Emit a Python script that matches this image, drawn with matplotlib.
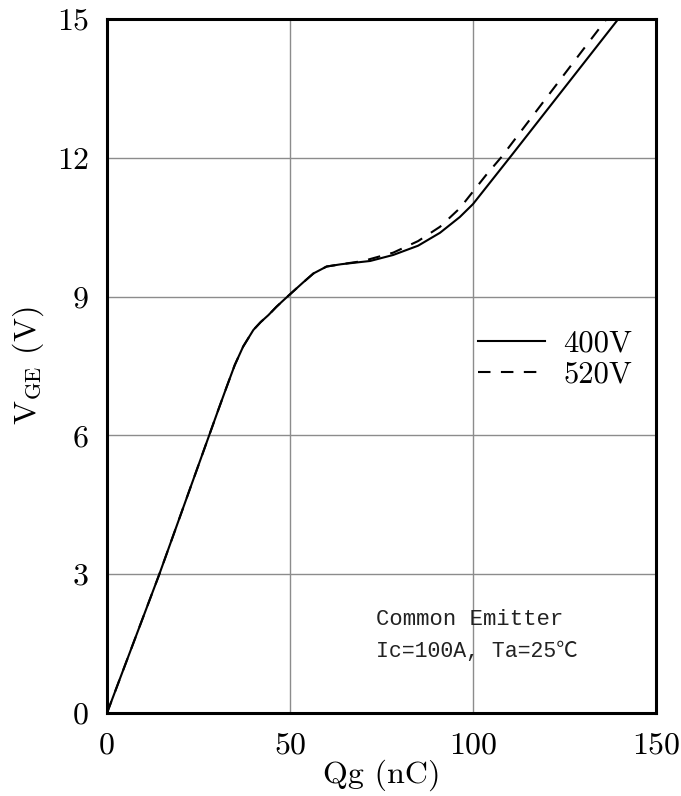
import matplotlib
matplotlib.use("Agg")
import matplotlib.pyplot as plt

# Gate charge characteristics
qg_400 = [0, 14.3, 28.0, 30.4, 32.7, 34.9, 37.2, 40.0, 42.0, 44.1, 46.3, 48.2, 50.0, 53.5,
          56.4, 60.0, 64.0, 71.9, 78.2, 85.0, 91.0, 96.4, 100.0, 105.0, 110.6, 120.0, 130.0, 139.7]
vge_400 = [0, 3.0, 6.02, 6.55, 7.05, 7.52, 7.92, 8.28, 8.45, 8.6, 8.78, 8.92, 9.05, 9.3,
           9.5, 9.65, 9.7, 9.77, 9.90, 10.1, 10.38, 10.72, 11.0, 11.5, 12.06, 13.01, 14.02, 15.0]

qg_520 = [0, 14.3, 28.0, 30.4, 32.7, 34.9, 37.2, 40.0, 42.0, 44.1, 46.3, 48.2, 50.0, 53.5,
          56.4, 60.0, 64.0, 70.0, 78.2, 85.0, 91.0, 96.4, 99.6, 103.5, 107.8, 120.0, 130.0, 136.5]
vge_520 = [0, 3.0, 6.02, 6.55, 7.05, 7.52, 7.92, 8.28, 8.45, 8.6, 8.78, 8.92, 9.05, 9.3,
           9.5, 9.65, 9.7, 9.77, 9.95, 10.2, 10.51, 10.91, 11.23, 11.62, 12.02, 13.29, 14.33, 15.0]

x_ticks = [0, 50, 100, 150]
y_ticks = [0, 3, 6, 9, 12, 15]

plt.rcParams['mathtext.fontset'] = 'cm'
cm_font = 'cmr10'
note_font = ['Liberation Mono', 'Noto Sans CJK SC']

fig = plt.figure(figsize=(6.81, 7.96), dpi=100)
ax = fig.add_axes([107 / 681, 83 / 796, 549 / 681, 694 / 796])

ax.plot(qg_400, vge_400, color='black', lw=1.5, label='400V')
ax.plot(qg_520, vge_520, color='black', lw=1.5, ls=(0, (6.0, 5.0)), label='520V')

ax.set_xlim(0, 150)
ax.set_ylim(0, 15)
ax.set_xticks(x_ticks)
ax.set_yticks(y_ticks)
ax.set_xticklabels([str(v) for v in x_ticks], fontfamily=cm_font, fontsize=23)
ax.set_yticklabels([str(v) for v in y_ticks], fontfamily=cm_font, fontsize=23)
ax.tick_params(length=0, pad=13)
ax.tick_params(axis='x', pad=14)

ax.grid(True, color='#8c8c8c', lw=1.0)
ax.set_axisbelow(True)
for sp in ax.spines.values():
    sp.set_linewidth(2.2)
    sp.set_color('black')

ax.set_xlabel('Qg (nC)', fontfamily=cm_font, fontsize=23, labelpad=0)
ax.set_ylabel(r'$\mathrm{V_{GE}}$ (V)', fontfamily=cm_font, fontsize=23, labelpad=8)

leg = ax.legend(loc='upper left', bbox_to_anchor=(0.675, 0.552), frameon=False,
                handlelength=2.2, handletextpad=0.6, labelspacing=0.12,
                borderpad=0, borderaxespad=0,
                prop={'family': cm_font, 'size': 22})

ax.text(0.49, 0.135, 'Common Emitter', transform=ax.transAxes,
        fontfamily=note_font, fontsize=16, color='#222222', va='center', ha='left')
ax.text(0.49, 0.088, 'Ic=100A, Ta=25\u2103', transform=ax.transAxes,
        fontfamily=note_font, fontsize=15.5, color='#222222', va='center', ha='left')

fig.savefig('out.png', dpi=100)
